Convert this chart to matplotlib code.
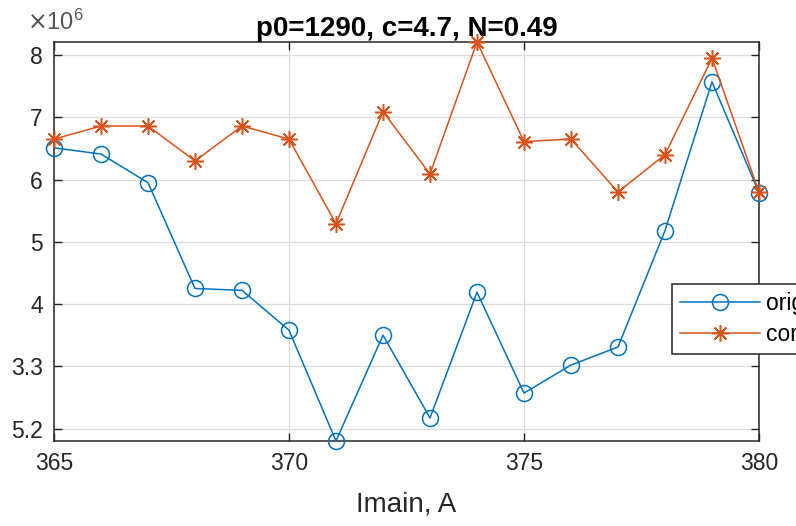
import matplotlib

matplotlib.use("Agg")
import matplotlib.pyplot as plt
import numpy as np

# Imain, A
current = [365, 366, 367, 368, 369, 370, 371, 372, 373, 374, 375, 376, 377, 378, 379, 380]
# values in units of 1e6
original = [6.51, 6.41, 5.95, 4.25, 4.22, 3.58, 1.80, 3.50, 2.17, 4.19, 2.57, 3.02, 3.31, 5.18, 7.57, 5.79]
corrected = [6.65, 6.86, 6.86, 6.30, 6.86, 6.65, 5.29, 7.09, 6.09, 8.21, 6.61, 6.65, 5.80, 6.40, 7.95, 5.80]

x_ticks = [365, 370, 375, 380]
y_ticks = [2, 3, 4, 5, 6, 7, 8]
y_tick_labels = ["5.2", "3.3", "4", "5", "6", "7", "8"]
title = "p0=1290, c=4.7, N=0.49"
labels = ["original", "corrected"]

BLUE = "#0072BD"
ORANGE = "#D95319"
DARK = "#262626"

plt.rcParams["font.family"] = ["Liberation Sans", "DejaVu Sans"]

fig = plt.figure(figsize=(7.96, 5.26), dpi=100)
ax = fig.add_axes([54 / 796, 85 / 526, 705 / 796, 399 / 526])

y_orig = np.array(original) * 1e6
y_corr = np.array(corrected) * 1e6

ax.plot(current, y_orig, color=BLUE, lw=1.1, marker="o", ms=11.5,
        mfc="none", mec=BLUE, mew=1.1, label=labels[0], clip_on=False, zorder=3)
ax.plot(current, y_corr, color=ORANGE, lw=1.1, marker=(8, 2, 0), ms=12,
        mec=ORANGE, mew=1.1, label=labels[1], clip_on=False, zorder=3)

ax.set_xlim(min(current), max(current))
ymin = min(y_orig.min(), y_corr.min())
ymax = max(y_orig.max(), y_corr.max())
ax.set_ylim(ymin, ymax)

ax.set_xticks(x_ticks)
ax.set_xticklabels([str(t) for t in x_ticks])
ax.set_yticks(np.array(y_ticks) * 1e6)
ax.set_yticklabels(y_tick_labels)

ax.grid(True, color="#dcdcdc", lw=0.9)
ax.set_axisbelow(True)
ax.tick_params(direction="in", length=6, width=1.0, colors=DARK,
               labelsize=16.5, top=True, right=True, pad=8)
for sp in ax.spines.values():
    sp.set_color(DARK)
    sp.set_linewidth(1.1)

ax.set_xlabel("Imain, A", fontsize=20, color=DARK, labelpad=12)
ax.set_title(title, fontsize=20, fontweight="bold", color="black", pad=4)

# MATLAB-style exponent label above the y axis
ax.text(-0.038, 1.018, r"$\times\mathregular{10^6}$", transform=ax.transAxes,
        fontsize=17, color="#555555", ha="left", va="bottom")

leg = ax.legend(loc="upper left", bbox_to_anchor=(672 / 796, 1 - 284 / 526),
                bbox_transform=fig.transFigure, borderaxespad=0,
                fontsize=16.5, handlelength=3.5, handletextpad=0.25,
                fancybox=False, framealpha=1, edgecolor=DARK,
                borderpad=0.35, labelspacing=0.35)
leg.get_frame().set_linewidth(1.1)

fig.savefig("out.png", dpi=100)
